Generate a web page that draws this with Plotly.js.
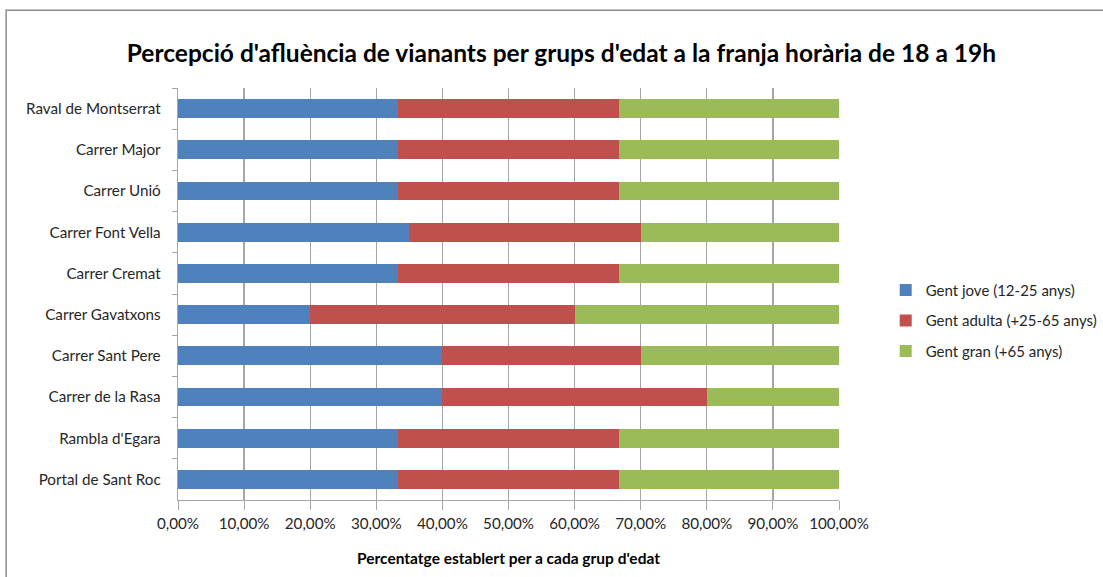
<!DOCTYPE html>
<html>
<head>
<meta charset="utf-8">
<script src="https://cdn.plot.ly/plotly-3.0.1.min.js"></script>
<style>html,body{margin:0;padding:0;background:#fff}#chart{width:1103px;height:577px}</style>
</head>
<body>
<div id="chart"></div>
<script>
var categories = ["Raval de Montserrat","Carrer Major","Carrer Unió","Carrer Font Vella","Carrer Cremat","Carrer Gavatxons","Carrer Sant Pere","Carrer de la Rasa","Rambla d'Egara","Portal de Sant Roc"];
var seriesNames = ["Gent jove (12-25 anys)","Gent adulta (+25-65 anys)","Gent gran (+65 anys)"];
var jove   = [0.3333,0.3333,0.3333,0.35,0.3333,0.20,0.40,0.40,0.3333,0.3333];
var adulta = [0.3333,0.3333,0.3333,0.35,0.3333,0.40,0.30,0.40,0.3333,0.3333];
var gran   = [0.3334,0.3334,0.3334,0.30,0.3334,0.40,0.30,0.20,0.3334,0.3334];
var colors = ["#4F81BD","#C0504D","#9BBB59"];
var tickVals = [0,0.1,0.2,0.3,0.4,0.5,0.6,0.7,0.8,0.9,1.0];
var tickText = ["0,00%","10,00%","20,00%","30,00%","40,00%","50,00%","60,00%","70,00%","80,00%","90,00%","100,00%"];

var seriesVals = [jove, adulta, gran];
var traces = seriesVals.map(function(v,i){
  return {
    type:'bar', orientation:'h', x:v, y:categories, name:seriesNames[i],
    marker:{color:colors[i], line:{width:0}}, width:0.46,
    legendgroup:'g'+i, hoverinfo:'x+name'
  };
});

var font = "Lato, 'Noto Sans', sans-serif";
var layout = {
  width:1103, height:577,
  margin:{l:178, r:264, t:88, b:77, pad:0},
  paper_bgcolor:'#fff', plot_bgcolor:'#fff',
  barmode:'stack', bargap:0.54,
  font:{family:font, size:15, color:'#262626'},
  title:{text:"Percepció d'afluència de vianants per grups d'edat a la franja horària de 18 a 19h",
         font:{family:font, size:24.5, color:'#000', weight:'bold'},
         x:0.509, xref:'container', xanchor:'center', y:0.908, yref:'container', yanchor:'middle'},
  xaxis:{range:[0,1], tickvals:tickVals, ticktext:tickText, showgrid:true, gridcolor:'#a6a6a6', gridwidth:1.3,
         zeroline:false, showline:true, linecolor:'#a6a6a6', linewidth:1.3, ticks:'outside', ticklen:9, tickcolor:'#a6a6a6',
         tickfont:{size:15.2, color:'#262626'},
         title:{text:"Percentatge establert per a cada grup d'edat", font:{size:15.5, color:'#000', weight:'bold'}, standoff:22}},
  yaxis:{type:'category', autorange:'reversed', showgrid:false, zeroline:false, showline:true, linecolor:'#a6a6a6', linewidth:1.3,
         ticks:'outside', ticklen:5, tickcolor:'#a6a6a6', tickson:'boundaries', ticklabelstandoff:13,
         tickfont:{size:15.2, color:'#262626'}},
  legend:{xref:'container', yref:'container', x:0.803, y:0.444, xanchor:'left', yanchor:'middle', itemwidth:30,
          traceorder:'grouped', tracegroupgap:8, font:{size:15, color:'#262626'}, bgcolor:'rgba(0,0,0,0)'},
  shapes:[{type:'rect', xref:'paper', yref:'paper', x0:-0.26, x1:1.5, y0:-0.3, y1:1.189,
           line:{color:'#8c8c8c', width:1.5}, fillcolor:'rgba(0,0,0,0)', layer:'below'}]
};
Plotly.newPlot('chart', traces, layout, {displayModeBar:false, staticPlot:true});
</script>
</body>
</html>
